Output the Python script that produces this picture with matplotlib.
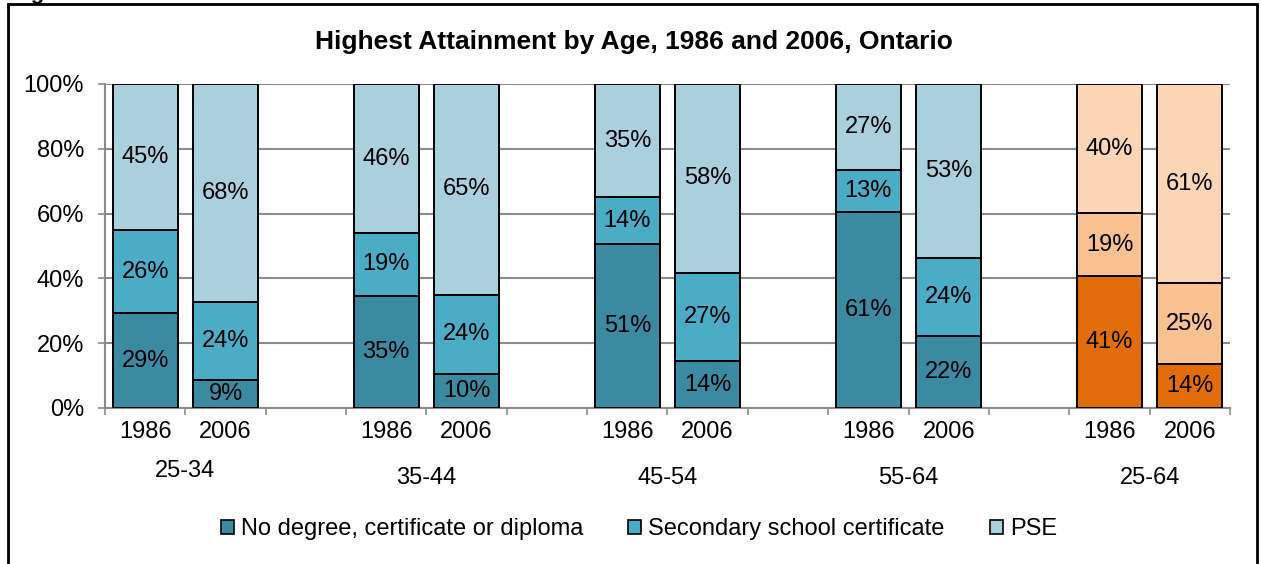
import matplotlib
matplotlib.use("Agg")
import matplotlib.pyplot as plt
from matplotlib.patches import Rectangle, Patch
from matplotlib.transforms import blended_transform_factory

plt.rcParams['font.family'] = ['Liberation Sans', 'DejaVu Sans']

# ---------------- data ----------------
groups = ["25-34", "35-44", "45-54", "55-64", "25-64"]
years = ["1986", "2006"]
series = ["No degree, certificate or diploma", "Secondary school certificate", "PSE"]

# segment heights (%), per bar in order: g1-1986, g1-2006, g2-1986, ...
no_degree = [29.3, 8.6, 34.6, 10.5, 50.6, 14.5, 60.5, 22.2, 40.7, 13.5]
secondary = [25.6, 24.1, 19.4, 24.4, 14.5, 27.2, 13.0, 24.1, 19.4, 25.0]
pse = [45.1, 67.3, 46.0, 65.1, 34.9, 58.3, 26.5, 53.7, 39.9, 61.5]

# printed labels
no_degree_lbl = [29, 9, 35, 10, 51, 14, 61, 22, 41, 14]
secondary_lbl = [26, 24, 19, 24, 14, 27, 13, 24, 19, 25]
pse_lbl = [45, 68, 46, 65, 35, 58, 27, 53, 40, 61]

yticks = [0, 20, 40, 60, 80, 100]

blue_cols = ["#3A8BA1", "#4BACC6", "#AACFDD"]
orange_cols = ["#E36C0A", "#F9C090", "#FCD5B5"]

FS = 17

# ---------------- figure ----------------
W, H = 1261, 564
fig = plt.figure(figsize=(W / 100, H / 100), dpi=100)
ax = fig.add_axes([105 / W, 1 - 408 / H, (1230 - 105) / W, (408 - 84) / H])

n_slots = len(groups) * 2 + (len(groups) - 1)
slots = []
for gi in range(len(groups)):
    slots += [gi * 3, gi * 3 + 1]
xc = [s + 0.5 for s in slots]
width = 0.81

layers = [no_degree, secondary, pse]
labels = [no_degree_lbl, secondary_lbl, pse_lbl]
for bi, x in enumerate(xc):
    cols = orange_cols if bi >= 8 else blue_cols
    bottom = 0
    for li in range(3):
        h = layers[li][bi]
        top = min(bottom + h, 100)
        ax.bar(x, top - bottom, width, bottom=bottom, color=cols[li],
               edgecolor="black", linewidth=1.4, zorder=3)
        ax.text(x, (bottom + top) / 2, f"{labels[li][bi]}%", ha="center",
                va="center", fontsize=FS, zorder=4)
        bottom = top

ax.set_xlim(0, n_slots)
ax.set_ylim(0, 100)
ax.set_yticks(yticks)
ax.set_yticklabels([f"{v}%" for v in yticks], fontsize=FS)
ax.yaxis.grid(True, color="#8C8C8C", linewidth=1.5, zorder=0)
ax.set_axisbelow(True)
ax.tick_params(axis="y", length=5, width=1.2, color="#8C8C8C", pad=10)

ax.set_xticks(range(n_slots + 1))
ax.set_xticklabels([])
ax.tick_params(axis="x", which="major", length=5, width=1.2, color="#8C8C8C",
               direction="out")
ax.set_xticks(xc, minor=True)
ax.set_xticklabels([years[i % 2] for i in range(len(xc))], minor=True, fontsize=FS)
ax.tick_params(axis="x", which="minor", length=0, pad=9)

for s in ["top", "right"]:
    ax.spines[s].set_visible(False)
for s in ["left", "bottom"]:
    ax.spines[s].set_color("#8C8C8C")
    ax.spines[s].set_linewidth(1.5)

tr = blended_transform_factory(ax.transData, fig.transFigure)
for gi, g in enumerate(groups):
    ypix = 471 if gi == 0 else 478
    ax.text(gi * 3 + 1, 1 - ypix / H, g, transform=tr, ha="center", va="center",
            fontsize=FS)

fig.text(634 / W, 1 - 42 / H, "Highest Attainment by Age, 1986 and 2006, Ontario",
         ha="center", va="center", fontsize=19, fontweight="bold")

handles = [Patch(facecolor=c, edgecolor="black", linewidth=1.2) for c in blue_cols]
fig.legend(handles, series, loc="center", bbox_to_anchor=(639 / W, 1 - 529 / H),
           ncol=3, frameon=False, fontsize=FS, handlelength=0.55, handleheight=0.55,
           handletextpad=0.3, columnspacing=1.9)

# frame
fig.patches.append(Rectangle((8 / W, -0.05), (1257 - 8) / W, 1.05 - 4 / H,
                             transform=fig.transFigure, fill=False,
                             edgecolor="black", linewidth=2))
fig.text(12 / W, 1 + 1 / H, "Figure", fontsize=16, fontweight="bold",
         va="baseline", ha="left")

fig.savefig("out.png", dpi=100)
